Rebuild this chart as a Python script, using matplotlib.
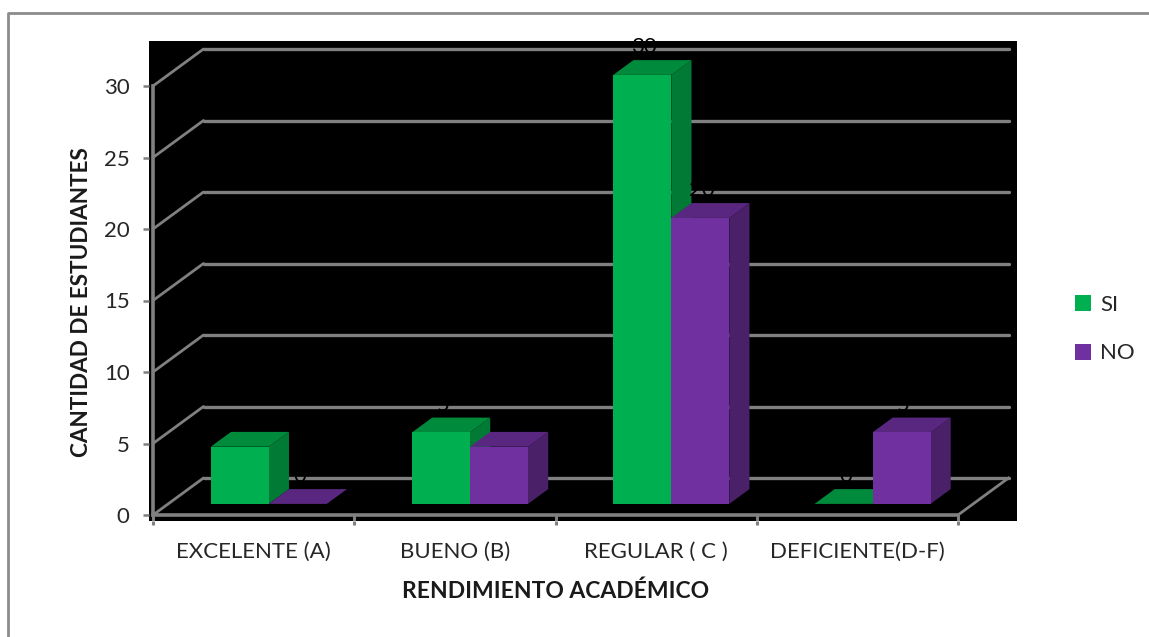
import matplotlib
matplotlib.use("Agg")
import matplotlib.pyplot as plt
from matplotlib.patches import Polygon, Patch
from matplotlib.lines import Line2D

plt.rcParams['font.family'] = ['Lato', 'DejaVu Sans']

categories = ["EXCELENTE (A)", "BUENO (B)", "REGULAR ( C )", "DEFICIENTE(D-F)"]
si_values = [4, 5, 30, 0]
no_values = [0, 4, 20, 5]
y_ticks = [0, 5, 10, 15, 20, 25, 30]

W, H = 1149, 637
GREY = "#808080"
TXT = "#262626"
C_SI = ("#00B050", "#008A3C", "#007A34")
C_NO = ("#7030A0", "#5A2780", "#4A2168")

fig = plt.figure(figsize=(W / 100, H / 100), dpi=100, facecolor="white")
# outer chart frame
fig.add_artist(Line2D([8 / W, 8 / W, 1], [0, 1 - 12.5 / H, 1 - 12.5 / H],
                      color="#8c8c8c", lw=2.0, transform=fig.transFigure))

L, R, T, B = 149, 1017, 41, 521
ax = fig.add_axes([L / W, 1 - B / H, (R - L) / W, (B - T) / H], facecolor="black")
PX_X = 201.25   # pixels per category
PX_Y = 14.3     # pixels per unit
X0, Y0 = 153, 515
ax.set_xlim((L - X0) / PX_X, (R - X0) / PX_X)
ax.set_ylim((Y0 - B) / PX_Y, (Y0 - T) / PX_Y)

DX = 50.5 / PX_X  # full depth of the floor, in data units
DY = 37 / PX_Y
D0, D1 = 0.30, 0.70  # depth range occupied by the bars
N = len(categories)


def proj(x, y, d):
    return x + d * DX, y + d * DY


# walls and floor
for v in y_ticks:
    pts = [(0, v), proj(0, v, 1), proj(N, v, 1)]
    ax.plot(*zip(*pts[:2]), color=GREY, lw=2.0, zorder=1, solid_capstyle="round")
    ax.plot(*zip(*pts[1:]), color=GREY, lw=2.4, zorder=1, solid_capstyle="round")
ax.plot(*zip((N, 0), proj(N, 0, 1)), color=GREY, lw=2.0, zorder=1)
ax.plot([0, 0], [0, max(y_ticks)], color=GREY, lw=2.6, zorder=2)
ax.plot([0, N], [0, 0], color=GREY, lw=2.6, zorder=2)
bottom_px = (Y0 - B) / PX_Y
for i in range(N + 1):
    ax.plot([i, i], [0, bottom_px], color=GREY, lw=2.2, zorder=2)

# bars
BW = 58 / PX_X
labels = []
for s, (vals, cols) in enumerate([(si_values, C_SI), (no_values, C_NO)]):
    for i, v in enumerate(vals):
        x_left = i + 0.5 - BW + s * BW
        x_l, y_b = proj(x_left, 0, D0)
        x_r = x_l + BW
        y_t = y_b + v
        off_x = (D1 - D0) * DX
        off_y = (D1 - D0) * DY
        zo = 3 + i + s * 0.5
        ax.add_patch(Polygon([(x_r, y_b), (x_r + off_x, y_b + off_y),
                              (x_r + off_x, y_t + off_y), (x_r, y_t)],
                             closed=True, fc=cols[2], ec="none", zorder=zo))
        ax.add_patch(Polygon([(x_l, y_t), (x_l + off_x, y_t + off_y),
                              (x_r + off_x, y_t + off_y), (x_r, y_t)],
                             closed=True, fc=cols[1], ec="none", zorder=zo))
        if v > 0:
            ax.bar(x_l, v, width=BW, bottom=y_b, align="edge", color=cols[0],
                   linewidth=0, zorder=zo)
        labels.append((x_l + BW / 2 + 2 / PX_X, y_t + off_y + 13 / PX_Y, v))

for x, y, v in labels:
    ax.text(x, y, str(v), color="black", fontsize=16, ha="center", va="center",
            zorder=20, clip_on=False)

# axes furniture
for sp in ax.spines.values():
    sp.set_visible(False)
ax.set_yticks(y_ticks)
ax.set_yticklabels([str(v) for v in y_ticks])
ax.tick_params(axis="y", direction="out", length=4, width=1.8, color=GREY,
               labelcolor=TXT, labelsize=16, pad=10)
ax.set_xticks(range(N + 1))
ax.set_xticklabels([])
ax.set_xticks([i + 0.5 for i in range(N)], minor=True)
ax.set_xticklabels(categories, minor=True)
ax.tick_params(axis="x", which="major", direction="out", length=3, width=2.2, color=GREY)
ax.tick_params(axis="x", which="minor", length=0, labelcolor=TXT, labelsize=16, pad=15)

ax.set_xlabel("RENDIMIENTO ACADÉMICO", fontsize=16.5, fontweight="bold", color="#1a1a1a")
ax.xaxis.set_label_coords((556 - L) / (R - L), -(591 - B) / (B - T))
ax.xaxis.label.set_va("center")
ax.set_ylabel("CANTIDAD DE ESTUDIANTES", fontsize=16.2, fontweight="bold", color="#1a1a1a")
ax.yaxis.set_label_coords((82 - L) / (R - L), (B - 302) / (B - T))
ax.yaxis.label.set_va("center")

leg = fig.legend(handles=[Patch(fc=C_SI[0], label="SI"), Patch(fc=C_NO[0], label="NO")],
                 loc="center left", bbox_to_anchor=(1055 / W, 1 - 329 / H),
                 frameon=False, prop={"size": 16}, labelcolor=TXT,
                 handlelength=0.72, handleheight=0.72, handletextpad=0.4,
                 labelspacing=1.3)

fig.savefig("out.png", dpi=100, facecolor="white")
